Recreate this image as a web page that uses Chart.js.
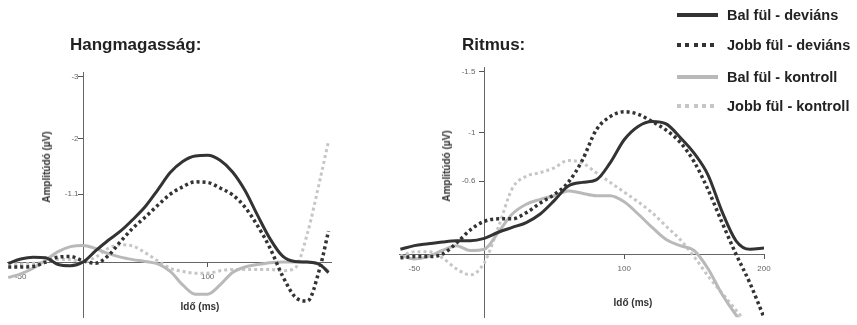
<!DOCTYPE html>
<html lang="hu">
<head>
<meta charset="utf-8">
<script src="https://cdn.jsdelivr.net/npm/chart.js@4.4.1/dist/chart.umd.min.js"></script>
<style>
  html, body { margin: 0; padding: 0; background: #fff; }
  body { width: 857px; height: 325px; position: relative; overflow: hidden;
         font-family: "Liberation Sans", Arial, sans-serif; color: #222; }
  canvas { position: absolute; top: 0; }
  #pitchChart { left: 0; }
  #rhythmChart { left: 380px; }
  .title { position: absolute; font-weight: bold; font-size: 17px; line-height: 1; transform: translateY(-50%); }
  .ax { position: absolute; font-weight: bold; font-size: 10px; line-height: 1; white-space: nowrap; color: #333; }
  .ylab { transform: translate(-50%, -50%) rotate(-90deg); }
  .xlab { transform: translate(-50%, -50%); }
  .leg { position: absolute; left: 677px; height: 0; }
  .leg .sample { position: absolute; left: 0; width: 41px; }
  .leg .txt { position: absolute; left: 50px; top: 0; transform: translateY(-50%);
              font-weight: bold; font-size: 14.5px; line-height: 1; white-space: nowrap; color: #222; }
</style>
</head>
<body>
<canvas id="pitchChart" width="345" height="325"></canvas>
<canvas id="rhythmChart" width="477" height="325"></canvas>

<div class="title" style="left:70px; top:44px;">Hangmagasság:</div>
<div class="title" style="left:462px; top:44px;">Ritmus:</div>

<div class="ax ylab" style="left:47px; top:167px;">Amplitúdó (µV)</div>
<div class="ax xlab" style="left:200px; top:307px;">Idő (ms)</div>
<div class="ax ylab" style="left:447px; top:166px;">Amplitúdó (µV)</div>
<div class="ax xlab" style="left:633px; top:303px;">Idő (ms)</div>

<div id="legend"></div>

<script>
// time axis (ms)
const timeLeft = [-60, -50, -40, -30, -20, -10, 0, 10, 20, 30, 40, 50, 60, 70, 80, 90, 100,
  110, 120, 130, 140, 150, 160, 170, 180, 190, 197];
const timeRight = [-60, -50, -40, -30, -20, -10, 0, 10, 20, 30, 40, 50, 60, 70, 80, 90, 100,
  110, 120, 130, 140, 150, 160, 170, 180, 190, 200];

// Hangmagasság (µV)
const pitchBalDev = [0.02, -0.05, -0.08, -0.07, 0.04, 0.06, 0.0, -0.18, -0.35, -0.5, -0.69, -0.9, -1.17,
  -1.45, -1.63, -1.72, -1.73, -1.65, -1.46, -1.16, -0.76, -0.38, -0.1, -0.01, 0, 0.04, 0.17];
const pitchJobbDev = [0.08, 0.08, 0.07, 0.0, -0.08, -0.09, -0.02, 0.02, -0.1, -0.33, -0.55, -0.73, -0.92,
  -1.1, -1.22, -1.3, -1.29, -1.2, -1.09, -0.89, -0.59, -0.23, 0.22, 0.56, 0.63, 0.1, -0.5];
const pitchBalKon = [0.25, 0.19, 0.1, -0.03, -0.17, -0.25, -0.27, -0.22, -0.14, -0.08, -0.04, -0.01, 0.03,
  0.15, 0.37, 0.52, 0.52, 0.37, 0.17, 0.08, 0.04, 0.01, 0, 0, 0, 0.04, 0.15];
const pitchJobbKon = [0.02, 0.03, 0.02, 0.0, -0.04, -0.04, 0.0, -0.08, -0.22, -0.28, -0.26, -0.15, -0.02,
  0.1, 0.15, 0.18, 0.18, 0.14, 0.12, 0.12, 0.12, 0.12, 0.14, 0.1, -0.46, -1.32, -1.96];

// Ritmus (µV)
const rhythmBalDev = [-0.04, -0.07, -0.085, -0.1, -0.11, -0.11, -0.13, -0.18, -0.22, -0.26, -0.33, -0.44, -0.56,
  -0.59, -0.61, -0.75, -0.94, -1.05, -1.09, -1.07, -0.96, -0.83, -0.65, -0.35, -0.11, -0.04, -0.05];
const rhythmJobbDev = [0.03, 0.02, 0.02, 0.0, -0.09, -0.2, -0.27, -0.29, -0.29, -0.34, -0.42, -0.49, -0.59,
  -0.77, -1.02, -1.13, -1.17, -1.15, -1.09, -1.02, -0.92, -0.76, -0.53, -0.26, 0.0, 0.24, 0.52];
const rhythmBalKon = [0.01, 0.04, 0.02, -0.03, -0.07, -0.03, -0.04, -0.18, -0.33, -0.41, -0.45, -0.48, -0.52,
  -0.5, -0.48, -0.48, -0.43, -0.33, -0.22, -0.12, -0.07, -0.03, 0.12, 0.33, 0.5, 0.64, 0.75];
const rhythmJobbKon = [0.02, -0.02, -0.02, 0.03, 0.12, 0.17, 0.07, -0.22, -0.54, -0.64, -0.67, -0.71, -0.77,
  -0.75, -0.67, -0.59, -0.51, -0.43, -0.34, -0.23, -0.12, 0.02, 0.18, 0.32, 0.46, 0.6, 0.73];

const seriesLabels = ["Bal fül - deviáns", "Jobb fül - deviáns", "Bal fül - kontroll", "Jobb fül - kontroll"];

const pitchXTicks = [-50, 100];
const pitchYTicks = [-3, -2, -1.1];
const rhythmXTicks = [-50, 100, 200];
const rhythmYTicks = [-1.5, -1, -0.6];

const styles = [
  { color: "#333333", width: 3, dash: [] },
  { color: "#333333", width: 3.5, dash: [3, 3] },
  { color: "#b9b9b9", width: 3, dash: [] },
  { color: "#c6c6c6", width: 3, dash: [3, 3] }
];

function toPoints(t, v) {
  return t.map((x, i) => ({ x, y: v[i] }));
}

// yGap: trailing spaces so the right-aligned y labels sit left of the tick marks
function makeChart(id, time, series, xr, yr, xTicks, yTicks, padding, yGap) {
  const datasets = series.map((vals, i) => ({
    label: seriesLabels[i],
    data: toPoints(time, vals),
    borderColor: styles[i].color,
    borderWidth: styles[i].width,
    borderDash: styles[i].dash,
    borderCapStyle: "butt",
    pointRadius: 0,
    fill: false,
    cubicInterpolationMode: "monotone"
  }));
  const tickFont = { family: "Liberation Sans", size: 8 };
  return new Chart(document.getElementById(id), {
    type: "line",
    data: { datasets },
    options: {
      responsive: false,
      animation: false,
      devicePixelRatio: 1,
      layout: { padding },
      plugins: { legend: { display: false }, tooltip: { enabled: false } },
      scales: {
        x: {
          type: "linear",
          min: xr[0], max: xr[1],
          position: { y: 0 },
          afterBuildTicks: s => { s.ticks = xTicks.map(v => ({ value: v })); },
          afterFit: s => { s.height = 0; },
          ticks: { font: tickFont, color: "#666", padding: 6, maxRotation: 0, autoSkip: false,
                   callback: v => String(v) },
          grid: { drawOnChartArea: false, drawTicks: true, tickLength: 4, color: "#555" },
          border: { display: true, color: "#666", width: 1 }
        },
        y: {
          type: "linear",
          reverse: true,
          min: yr[0], max: yr[1],
          position: { x: 0 },
          afterBuildTicks: s => { s.ticks = yTicks.map(v => ({ value: v })); },
          afterFit: s => { s.width = 0; },
          ticks: { font: tickFont, color: "#666", autoSkip: false,
                   callback: v => String(v) + yGap },
          grid: { drawOnChartArea: false, drawTicks: true, tickLength: 5, color: "#555" },
          border: { display: true, color: "#666", width: 1 }
        }
      }
    }
  });
}

makeChart("pitchChart", timeLeft, [pitchBalDev, pitchJobbDev, pitchBalKon, pitchJobbKon],
  [-61, 199], [-3.08, 0.89], pitchXTicks, pitchYTicks,
  { left: 7, right: 14, top: 72, bottom: 8 }, "  ");

makeChart("rhythmChart", timeRight, [rhythmBalDev, rhythmJobbDev, rhythmBalKon, rhythmJobbKon],
  [-61, 200], [-1.538, 0.518], rhythmXTicks, rhythmYTicks,
  { left: 19, right: 93, top: 67, bottom: 0 }, "    ");

// legend (top right)
const legendRows = [15, 45, 77, 106];
const legend = document.getElementById("legend");
seriesLabels.forEach((label, i) => {
  const st = styles[i];
  const row = document.createElement("div");
  row.className = "leg";
  row.style.top = legendRows[i] + "px";
  const sample = document.createElement("div");
  sample.className = "sample";
  const h = i < 2 ? 4 : 3.5;
  sample.style.height = h + "px";
  sample.style.top = (-h / 2) + "px";
  sample.style.background = st.dash.length
    ? `repeating-linear-gradient(90deg, ${st.color} 0 4px, transparent 4px 8.3px)`
    : st.color;
  const txt = document.createElement("div");
  txt.className = "txt";
  txt.textContent = label;
  row.appendChild(sample);
  row.appendChild(txt);
  legend.appendChild(row);
});
</script>
</body>
</html>
